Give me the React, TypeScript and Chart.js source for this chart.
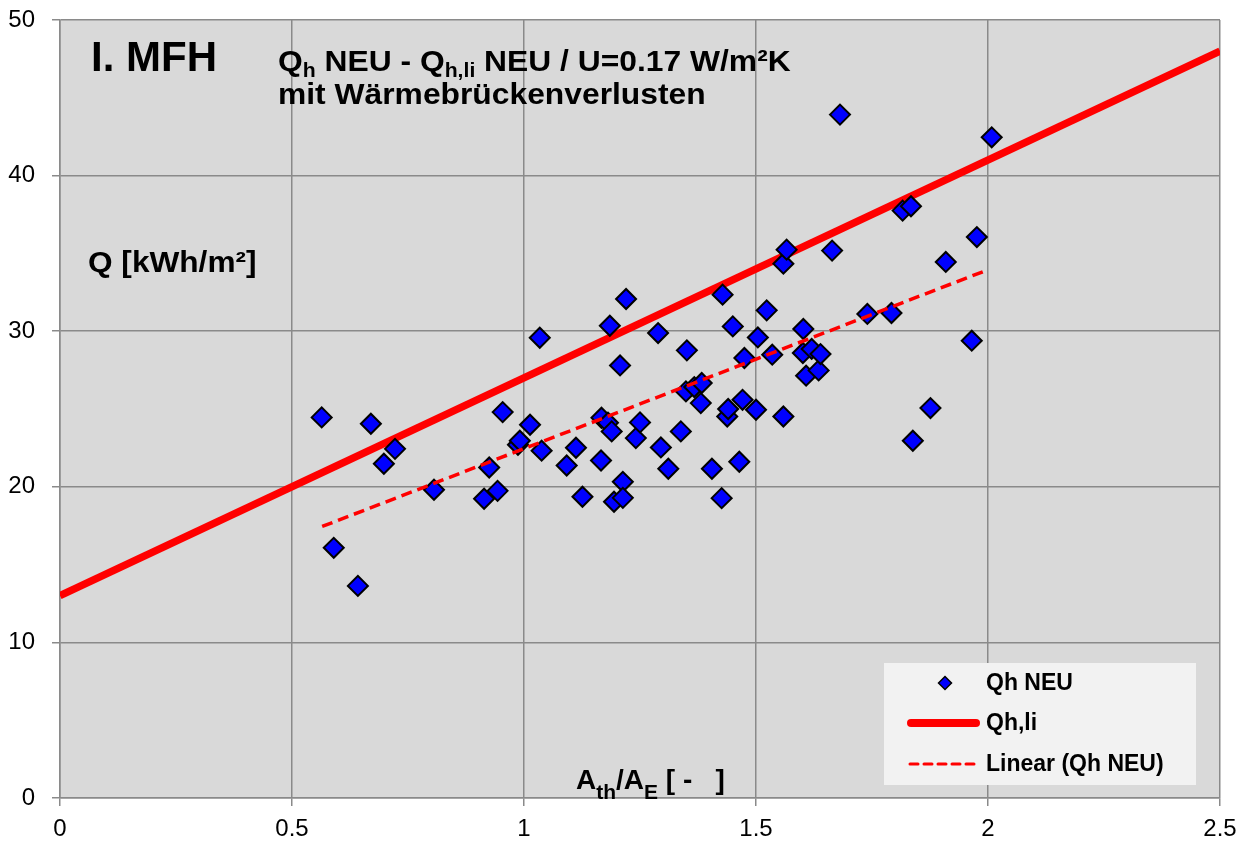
import React, { useEffect, useRef } from "react";
import { Chart, registerables } from "chart.js";

Chart.register(...registerables);

// Qh NEU scatter data (A_th/A_E , Q kWh/m²)
const qhNeuX = [
  0.564, 0.59, 0.642, 0.67, 0.698, 0.722, 0.806, 0.914, 0.925, 0.943,
  0.954, 0.987, 0.991, 1.013, 1.034, 1.038, 1.092, 1.112, 1.126, 1.166,
  1.167, 1.181, 1.189, 1.185, 1.194, 1.207, 1.213, 1.213, 1.22, 1.241,
  1.25, 1.289, 1.295, 1.311, 1.338, 1.349, 1.351, 1.367, 1.383, 1.381,
  1.405, 1.426, 1.428, 1.438, 1.44, 1.45, 1.464, 1.471, 1.475, 1.5,
  1.504, 1.523, 1.535, 1.559, 1.559, 1.566, 1.602, 1.601, 1.608, 1.62,
  1.635, 1.639, 1.664, 1.681, 1.74, 1.792, 1.816, 1.834, 1.838, 1.876,
  1.909, 1.965, 1.976, 2.008,
];
const qhNeuY = [
  24.46, 16.08, 13.63, 24.05, 21.48, 22.44, 19.81, 19.23, 21.24, 19.74,
  24.8, 22.7, 22.96, 23.99, 29.58, 22.32, 21.37, 22.51, 19.36, 21.69,
  24.44, 24.12, 23.56, 30.35, 19.04, 27.8, 20.32, 19.29, 32.07, 23.13,
  24.14, 29.88, 22.53, 21.16, 23.56, 26.13, 28.77, 26.41, 26.67, 25.38,
  21.16, 19.27, 32.35, 24.52, 25.0, 30.31, 21.61, 25.59, 28.28, 24.95,
  29.6, 31.34, 28.49, 24.52, 34.34, 35.24, 30.14, 28.6, 27.14, 28.86,
  27.48, 28.53, 35.18, 43.92, 31.11, 31.17, 37.75, 38.03, 22.96, 25.06,
  34.45, 29.39, 36.05, 42.46,
];
// Qh,li reference line
const qhLiX = [0, 2.5];
const qhLiY = [13, 48];
// Linear trend (Qh NEU), endpoints
const trendX = [0.565, 2.0];
const trendY = [17.45, 33.95];

const xTicks = [0, 0.5, 1, 1.5, 2, 2.5];
const yTicks = [0, 10, 20, 30, 40, 50];

const FONT = '"Liberation Sans", Arial, Helvetica, sans-serif';

type Seg = { t: string; size: number; dy?: number };

function drawRich(ctx: CanvasRenderingContext2D, x: number, y: number, segs: Seg[], sx = 1) {
  ctx.save();
  ctx.translate(x, y);
  ctx.scale(sx, 1);
  ctx.fillStyle = "#000";
  ctx.textBaseline = "alphabetic";
  ctx.textAlign = "left";
  let cx = 0;
  for (const s of segs) {
    ctx.font = `bold ${s.size}px ${FONT}`;
    ctx.fillText(s.t, cx, s.dy || 0);
    cx += ctx.measureText(s.t).width;
  }
  ctx.restore();
}

const bgPlugin = {
  id: "plotBg",
  beforeDraw(chart: any) {
    const { ctx, chartArea } = chart;
    ctx.save();
    ctx.fillStyle = "#d9d9d9";
    ctx.fillRect(chartArea.left, chartArea.top, chartArea.right - chartArea.left, chartArea.bottom - chartArea.top);
    ctx.restore();
  },
};

const textPlugin = {
  id: "texts",
  afterDraw(chart: any) {
    const ctx: CanvasRenderingContext2D = chart.ctx;
    drawRich(ctx, 91, 71, [{ t: "I. MFH", size: 42 }]);
    drawRich(
      ctx,
      278,
      71,
      [
        { t: "Q", size: 30 },
        { t: "h", size: 20, dy: 6 },
        { t: " NEU - Q", size: 30 },
        { t: "h,li", size: 20, dy: 6 },
        { t: " NEU / U=0.17 W/m²K", size: 30 },
      ],
      1.06
    );
    drawRich(ctx, 278, 104, [{ t: "mit Wärmebrückenverlusten", size: 30 }], 1.06);
    drawRich(ctx, 88, 272, [{ t: "Q [kWh/m²]", size: 29 }], 1.09);
    drawRich(
      ctx,
      576,
      789,
      [
        { t: "A", size: 28 },
        { t: "th", size: 21, dy: 10 },
        { t: "/A", size: 28 },
        { t: "E", size: 21, dy: 10 },
        { t: " [ -   ]", size: 28 },
      ],
      1.0
    );

    // legend
    ctx.save();
    ctx.fillStyle = "#f2f2f2";
    ctx.fillRect(884, 663, 312, 122);
    // diamond
    ctx.beginPath();
    ctx.moveTo(945 - 6.5, 683);
    ctx.lineTo(945, 683 - 6.5);
    ctx.lineTo(945 + 6.5, 683);
    ctx.lineTo(945, 683 + 6.5);
    ctx.closePath();
    ctx.fillStyle = "#0000ff";
    ctx.fill();
    ctx.lineWidth = 1.5;
    ctx.strokeStyle = "#000";
    ctx.stroke();
    // thick line
    ctx.beginPath();
    ctx.lineCap = "round";
    ctx.strokeStyle = "#ff0000";
    ctx.lineWidth = 8;
    ctx.moveTo(911, 723);
    ctx.lineTo(976, 723);
    ctx.stroke();
    // dashed line
    ctx.beginPath();
    ctx.lineCap = "round";
    ctx.lineWidth = 3;
    ctx.setLineDash([8, 6]);
    ctx.moveTo(910, 764);
    ctx.lineTo(978, 764);
    ctx.stroke();
    ctx.setLineDash([]);
    ctx.restore();
    ctx.save();
    ctx.font = `bold 23px ${FONT}`;
    ctx.fillStyle = "#000";
    ctx.textBaseline = "middle";
    ctx.fillText("Qh NEU", 986, 684);
    ctx.fillText("Qh,li", 986, 724);
    ctx.fillText("Linear (Qh NEU)", 986, 765);
    ctx.restore();
  },
};

export default function App() {
  const ref = useRef<HTMLCanvasElement | null>(null);
  useEffect(() => {
    if (!ref.current) return;
    const scatterPts = qhNeuX.map((x, i) => ({ x, y: qhNeuY[i] }));
    const liPts = qhLiX.map((x, i) => ({ x, y: qhLiY[i] }));
    const trPts = trendX.map((x, i) => ({ x, y: trendY[i] }));
    const chart = new Chart(ref.current, {
      type: "scatter",
      data: {
        datasets: [
          {
            label: "Qh,li",
            data: liPts,
            showLine: true,
            borderColor: "#ff0000",
            borderWidth: 7.5,
            pointRadius: 0,
            order: 3,
          },
          {
            label: "Qh NEU",
            data: scatterPts,
            pointStyle: "rectRot",
            pointRadius: 10,
            pointBackgroundColor: "#0000ff",
            pointBorderColor: "#000",
            pointBorderWidth: 2,
            order: 2,
          },
          {
            label: "Linear (Qh NEU)",
            data: trPts,
            showLine: true,
            borderColor: "#ff0000",
            borderWidth: 3.5,
            borderDash: [11, 6],
            pointRadius: 0,
            order: 1,
          },
        ],
      },
      options: {
        animation: false,
        responsive: false,
        devicePixelRatio: 1,
        layout: { padding: { top: 20, right: 27, left: 0, bottom: 0 } },
        plugins: { legend: { display: false }, tooltip: { enabled: false } },
        scales: {
          x: {
            type: "linear",
            min: 0,
            max: 2.5,
            afterBuildTicks: (s: any) => {
              s.ticks = xTicks.map((v) => ({ value: v }));
            },
            afterFit: (s: any) => {
              s.height = 47;
              s.paddingLeft = 0;
              s.paddingRight = 0;
            },
            grid: { color: "#8a8a8a", lineWidth: 1.5, tickLength: 8 },
            border: { color: "#8a8a8a", width: 1.5 },
            ticks: {
              color: "#000",
              font: { family: FONT, size: 24 },
              padding: 9,
              maxRotation: 0,
              callback: (v: any) => String(Number(v)),
            },
          },
          y: {
            type: "linear",
            min: 0,
            max: 50,
            afterBuildTicks: (s: any) => {
              s.ticks = yTicks.map((v) => ({ value: v }));
            },
            afterFit: (s: any) => {
              s.width = 60;
              s.paddingTop = 0;
              s.paddingBottom = 0;
            },
            grid: { color: "#8a8a8a", lineWidth: 1.5, tickLength: 8 },
            border: { color: "#8a8a8a", width: 1.5 },
            ticks: {
              color: "#000",
              font: { family: FONT, size: 24 },
              padding: 17,
              callback: (v: any) => String(Number(v)),
            },
          },
        },
      },
      plugins: [bgPlugin, textPlugin],
    });
    return () => chart.destroy();
  }, []);
  return (
    <div style={{ position: "fixed", left: 0, top: 0, width: 1247, height: 845, background: "#fff" }}>
      <canvas ref={ref} width={1247} height={845} style={{ display: "block" }} />
    </div>
  );
}
